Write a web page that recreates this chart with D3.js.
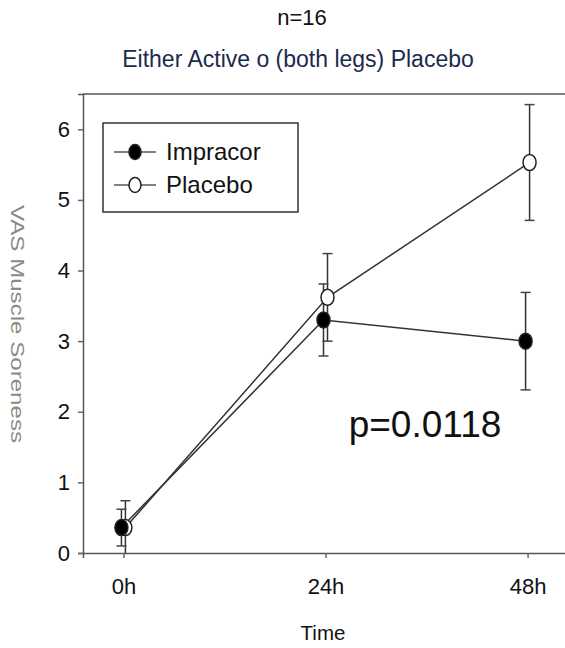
<!DOCTYPE html>
<html>
<head>
<meta charset="utf-8">
<script src="https://cdn.jsdelivr.net/npm/d3@7"></script>
<style>
  body { margin: 0; background: #fff; }
  text { font-family: "Liberation Sans", Arial, sans-serif; }
</style>
</head>
<body>
<div class="chart"></div>
<script>
const timeLabels = ["0h", "24h", "48h"];
const impracorMean = [0.36, 3.30, 3.00];
const impracorErr = [0.26, 0.51, 0.69];
const placeboMean = [0.36, 3.62, 5.53];
const placeboErr = [0.38, 0.62, 0.82];
const yTicks = [0, 1, 2, 3, 4, 5, 6];

const series = [
  {name: "Impracor", mean: impracorMean, err: impracorErr, fill: "#000", dx: -2},
  {name: "Placebo", mean: placeboMean, err: placeboErr, fill: "#fff", dx: 2}
];

const width = 565, height = 648;
const svg = d3.select('.chart').append('svg')
    .attr("width", width)
    .attr("height", height);

const xScale = d3.scaleLinear().domain([-0.2, 2.2]).range([83, 568]);
const yScale = d3.scaleLinear().domain([0, 6.5]).range([553, 94]);

// frame
svg.append("line")
    .attr("x1", 83).attr("x2", 565)
    .attr("y1", yScale(6.5)).attr("y2", yScale(6.5))
    .attr("stroke", "#555").attr("stroke-width", 1.5);

const yAxis = d3.axisLeft(yScale).tickValues(yTicks).tickSize(5).tickPadding(8)
    .tickFormat(d3.format("d"));
const xAxis = d3.axisBottom(xScale).tickValues([0, 1, 2]).tickSize(5).tickPadding(20)
    .tickFormat(i => timeLabels[i]);

const gy = svg.append("g")
    .attr("transform", `translate(83,0)`)
    .call(yAxis);
const gx = svg.append("g")
    .attr("transform", `translate(0,553)`)
    .call(xAxis);

[gx, gy].forEach(g => {
  g.select(".domain").attr("stroke", "#555").attr("stroke-width", 1.5);
  g.selectAll(".tick line").attr("stroke", "#666").attr("stroke-width", 1.5);
  g.selectAll(".tick text").attr("font-size", "22px").attr("fill", "#111")
    .attr("font-family", "Liberation Sans, Arial, sans-serif");
});

// titles
svg.append("text")
    .attr("x", 302).attr("y", 25)
    .attr("text-anchor", "middle")
    .attr("font-size", "22px").attr("fill", "#111")
    .text("n=16");

svg.append("text")
    .attr("x", 298).attr("y", 67)
    .attr("text-anchor", "middle")
    .attr("font-size", "23px").attr("fill", "#1c2a4d")
    .text("Either Active o (both legs) Placebo");

svg.append("text")
    .attr("x", 323).attr("y", 640)
    .attr("text-anchor", "middle")
    .attr("font-size", "20.5px").attr("fill", "#111")
    .text("Time");

svg.append("text")
    .attr("transform", "translate(11,324) rotate(90)")
    .attr("text-anchor", "middle")
    .attr("font-size", "19px").attr("fill", "#8a8a8a")
    .attr("textLength", 238).attr("lengthAdjust", "spacingAndGlyphs")
    .text("VAS Muscle Soreness");

svg.append("text")
    .attr("x", 425).attr("y", 437)
    .attr("text-anchor", "middle")
    .attr("font-size", "37px").attr("fill", "#111")
    .text("p=0.0118");

// lines
const line = d3.line()
    .x((d, i) => xScale(i))
    .y(d => yScale(d));

series.forEach(s => {
  svg.append("path")
      .datum(s.mean)
      .attr("fill", "none")
      .attr("stroke", "#333")
      .attr("stroke-width", 1.5)
      .attr("transform", `translate(${s.dx},0)`)
      .attr("d", line);
});

// error bars and markers
series.slice().reverse().forEach(s => {
  const g = svg.append("g").attr("transform", `translate(${s.dx},0)`);
  const pts = s.mean.map((m, i) => ({i, m, e: s.err[i]}));
  g.selectAll(".err")
      .data(pts).enter().append("line")
      .attr("x1", d => xScale(d.i)).attr("x2", d => xScale(d.i))
      .attr("y1", d => yScale(Math.max(0, d.m - d.e)))
      .attr("y2", d => yScale(d.m + d.e))
      .attr("stroke", "#333").attr("stroke-width", 1.5);
  [1, -1].forEach(sign => {
    g.selectAll(".cap")
        .data(pts.filter(d => d.m - sign * d.e > 0 || sign < 0)).enter().append("line")
        .attr("x1", d => xScale(d.i) - 5).attr("x2", d => xScale(d.i) + 5)
        .attr("y1", d => yScale(d.m - sign * d.e)).attr("y2", d => yScale(d.m - sign * d.e))
        .attr("stroke", "#444").attr("stroke-width", 1.5);
  });
});

series.slice().reverse().forEach(s => {
  svg.selectAll(".pt-" + s.name)
      .data(s.mean).enter().append("ellipse")
      .attr("cx", (d, i) => xScale(i) + s.dx)
      .attr("cy", d => yScale(d))
      .attr("rx", 6.5).attr("ry", 8)
      .attr("fill", s.fill)
      .attr("stroke", "#222").attr("stroke-width", 1.5);
});

// legend
svg.append("rect")
    .attr("x", 103).attr("y", 123)
    .attr("width", 195).attr("height", 89)
    .attr("fill", "#fff")
    .attr("stroke", "#333").attr("stroke-width", 1.5);

series.forEach((s, i) => {
  const y = 152 + i * 33;
  svg.append("line")
      .attr("x1", 114).attr("x2", 156).attr("y1", y).attr("y2", y)
      .attr("stroke", "#555").attr("stroke-width", 1.5);
  svg.append("ellipse")
      .attr("cx", 135).attr("cy", y)
      .attr("rx", 6).attr("ry", 7.5)
      .attr("fill", s.fill).attr("stroke", "#222").attr("stroke-width", 1.5);
  svg.append("text")
      .attr("x", 166).attr("y", y + 8)
      .attr("font-size", "24px").attr("fill", "#111")
      .text(s.name);
});
</script>
</body>
</html>
